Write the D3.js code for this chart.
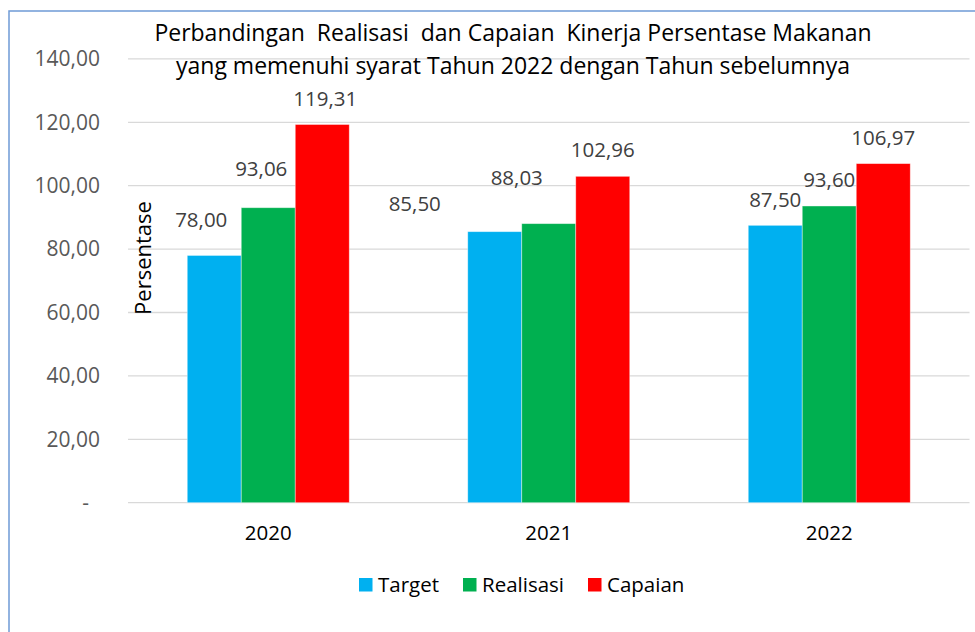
<!DOCTYPE html>
<html>
<head>
<meta charset="utf-8">
<script src="https://cdn.jsdelivr.net/npm/d3@7"></script>
<style>
  body { margin: 0; background: #fff; }
  svg { display: block; font-family: "Open Sans", sans-serif; }
</style>
</head>
<body>
<div id="chart"></div>
<script>
const years = ["2020", "2021", "2022"];
const seriesNames = ["Target", "Realisasi", "Capaian"];
const target = [78.00, 85.50, 87.50];
const realisasi = [93.06, 88.03, 93.60];
const capaian = [119.31, 102.96, 106.97];
const yTicks = [0, 20, 40, 60, 80, 100, 120, 140];
const titleLines = [
  "Perbandingan  Realisasi  dan Capaian  Kinerja Persentase Makanan",
  "yang memenuhi syarat Tahun 2022 dengan Tahun sebelumnya"
];

// label nudges as dragged in the original chart [dx, dy] per series/year
const labelNudge = {
  Target: [[-13, -10], [-80, -2], [0, 0]],
  Realisasi: [[-7, -13], [-32, -20], [0, 0]],
  Capaian: [[3, 0], [0, 0], [0, 0]]
};

const colors = { Target: "#00b0f0", Realisasi: "#00b050", Capaian: "#ff0000" };
const values = { Target: target, Realisasi: realisasi, Capaian: capaian };

const width = 975;
const height = 632;

const svg = d3.select("#chart").append("svg")
  .attr("width", width)
  .attr("height", height);

svg.append("rect")
  .attr("x", 9).attr("y", 11)
  .attr("width", width + 10).attr("height", height + 10)
  .attr("fill", "none")
  .attr("stroke", "#6f9bd6")
  .attr("stroke-width", 1.5);

const x0 = d3.scaleBand().domain(years).range([128, 969.5]).padding(0);
const x1 = d3.scaleBand().domain(seriesNames)
  .range([0, x0.bandwidth()])
  .paddingInner(0)
  .paddingOuter(1.097);
const y = d3.scaleLinear().domain([0, 140]).range([502.7, 58.9]);

const loc = d3.formatLocale({ decimal: ",", thousands: ".", grouping: [3], currency: ["", ""] });
const fmt = loc.format(".2f");

// gridlines
svg.append("g")
  .selectAll("line")
  .data(yTicks)
  .join("line")
  .attr("x1", 128).attr("x2", 969.5)
  .attr("y1", d => y(d)).attr("y2", d => y(d))
  .attr("stroke", "#d9d9d9")
  .attr("stroke-width", 1.3);

// y axis labels
svg.append("g")
  .selectAll("text")
  .data(yTicks)
  .join("text")
  .attr("x", d => d === 0 ? 89 : 100)
  .attr("y", d => y(d))
  .attr("dy", "0.35em")
  .attr("text-anchor", "end")
  .attr("font-size", 21)
  .attr("fill", "#595959")
  .text(d => d === 0 ? "-" : fmt(d));

// bars
const rows = [];
seriesNames.forEach(s => {
  years.forEach((yr, i) => rows.push({ series: s, year: yr, i: i, value: values[s][i] }));
});

svg.append("g")
  .selectAll("rect")
  .data(rows)
  .join("rect")
  .attr("x", d => x0(d.year) + x1(d.series))
  .attr("y", d => y(d.value))
  .attr("width", x1.bandwidth())
  .attr("height", d => y(0) - y(d.value))
  .attr("fill", d => colors[d.series])
  .attr("stroke", "#ffffff")
  .attr("stroke-opacity", 0.5)
  .attr("stroke-width", 0.8);

// data labels
svg.append("g")
  .selectAll("text")
  .data(rows)
  .join("text")
  .attr("x", d => x0(d.year) + x1(d.series) + x1.bandwidth() / 2 + labelNudge[d.series][d.i][0])
  .attr("y", d => y(d.value) - 26 + labelNudge[d.series][d.i][1])
  .attr("dy", "0.35em")
  .attr("text-anchor", "middle")
  .attr("font-size", 20.5)
  .attr("fill", "#404040")
  .text(d => fmt(d.value));

// x labels
svg.append("g")
  .selectAll("text")
  .data(years)
  .join("text")
  .attr("x", d => x0(d) + x0.bandwidth() / 2)
  .attr("y", 533)
  .attr("dy", "0.35em")
  .attr("text-anchor", "middle")
  .attr("font-size", 20.5)
  .attr("fill", "#000")
  .text(d => d);

// y title
svg.append("text")
  .attr("transform", "translate(143,258) rotate(-90)")
  .attr("dy", "0.35em")
  .attr("text-anchor", "middle")
  .attr("font-size", 22)
  .attr("fill", "#000")
  .text("Persentase");

// title
svg.append("g")
  .selectAll("text")
  .data(titleLines)
  .join("text")
  .attr("x", 513)
  .attr("y", (d, i) => 41 + i * 33)
  .attr("text-anchor", "middle")
  .attr("font-size", 23)
  .attr("fill", "#000")
  .attr("xml:space", "preserve")
  .style("white-space", "pre")
  .text(d => d);

// legend
const legendX = [359, 463, 588];
const legend = svg.append("g")
  .selectAll("g")
  .data(seriesNames)
  .join("g")
  .attr("transform", (d, i) => `translate(${legendX[i]},578)`);
legend.append("rect")
  .attr("width", 13.5).attr("height", 13.5)
  .attr("fill", d => colors[d]);
legend.append("text")
  .attr("x", 19)
  .attr("y", 7)
  .attr("dy", "0.35em")
  .attr("font-size", 20.5)
  .attr("fill", "#000")
  .text(d => d);
</script>
</body>
</html>
